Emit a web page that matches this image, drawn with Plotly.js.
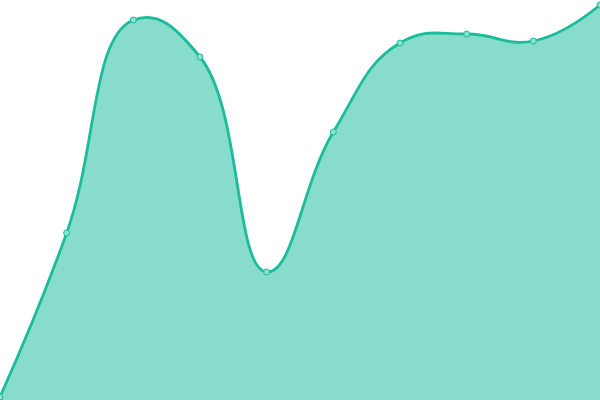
<!DOCTYPE html>
<html><head><meta charset="utf-8">
<script src="https://cdn.plot.ly/plotly-3.0.1.min.js"></script>
<style>html,body{margin:0;padding:0;background:#fff}#c{width:600px;height:400px}</style>
</head><body><div id="c"></div>
<script>
var xs = [0, 1, 2, 3, 4, 5, 6, 7, 8, 9];
var values = [3, 167, 380, 343, 128, 268, 357, 366, 359, 395];
Plotly.newPlot('c', [{
  x: xs, y: values, type: 'scatter', mode: 'lines+markers',
  line: {shape: 'spline', smoothing: 1.3, color: '#1abc9c', width: 2.8},
  fill: 'tozeroy', fillcolor: 'rgba(26,188,156,0.52)',
  marker: {size: 6, color: '#8be0ce', line: {color: '#1abc9c', width: 1}},
  cliponaxis: false, hoverinfo: 'none'
}], {
  width: 600, height: 400, margin: {l: 0, r: 0, t: 0, b: 0},
  paper_bgcolor: '#fff', plot_bgcolor: '#fff', showlegend: false,
  xaxis: {range: [0, 9], visible: false, fixedrange: true},
  yaxis: {range: [0, 400], visible: false, fixedrange: true}
}, {displayModeBar: false, staticPlot: true});
</script></body></html>
